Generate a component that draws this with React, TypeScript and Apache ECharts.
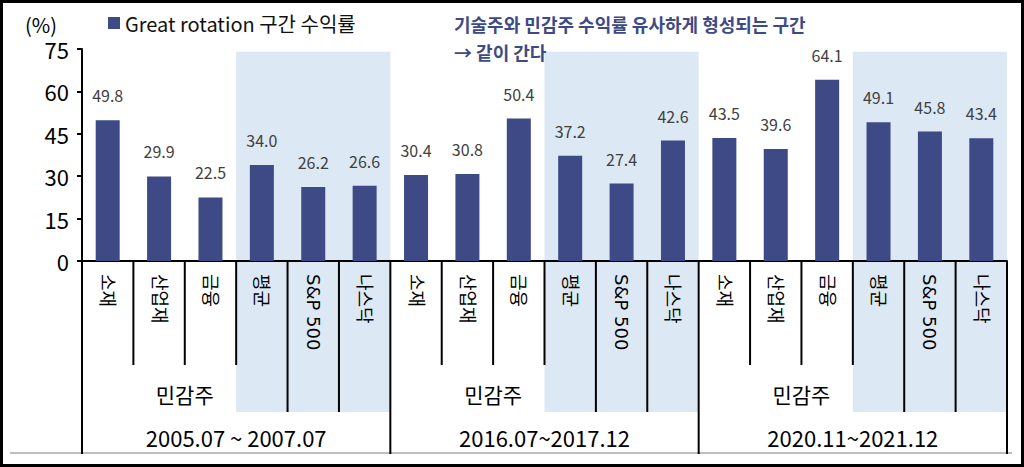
import { useEffect, useRef } from 'react';
import * as echarts from 'echarts';

const FONT = '"Noto Sans CJK KR", "Noto Sans", sans-serif';
const AXIS_FONT = '"DejaVu Sans", "Noto Sans CJK KR", sans-serif';

// 6 columns per period
const sectors = ['소재', '산업재', '금융', '평균', 'S&P 500', '나스닥'];
const periods = ['2005.07 ~ 2007.07', '2016.07~2017.12', '2020.11~2021.12'];
const groupLabel = '민감주';
const returns2005 = [49.8, 29.9, 22.5, 34.0, 26.2, 26.6];
const returns2016 = [30.4, 30.8, 50.4, 37.2, 27.4, 42.6];
const returns2020 = [43.5, 39.6, 64.1, 49.1, 45.8, 43.4];
const seriesName = 'Great rotation 구간 수익률';
const note1 = '기술주와 민감주 수익률 유사하게 형성되는 구간';
const note2 = '→ 같이 간다';

const categories = periods.flatMap((p, g) => sectors.map((s) => `${g}-${s}`));
const values = [...returns2005, ...returns2016, ...returns2020];

const BAR = '#3d4a85';
const SHADE = '#dde8f5';

export default function App() {
  const ref = useRef<HTMLDivElement>(null);

  useEffect(() => {
    if (!ref.current) return;
    document.body.style.margin = '0';
    const chart = echarts.init(ref.current, undefined, { renderer: 'svg' });

    chart.setOption({
      animation: false,
      backgroundColor: '#fff',
      textStyle: { fontFamily: FONT },
      legend: {
        data: [seriesName],
        left: 108,
        top: 13,
        icon: 'rect',
        itemWidth: 12,
        itemHeight: 12,
        itemGap: 4,
        padding: 0,
        textStyle: { fontSize: 20, color: '#111', fontFamily: FONT },
      },
      grid: { left: 82, right: 17, top: 49, bottom: 206 },
      xAxis: {
        type: 'category',
        data: categories,
        axisLine: { lineStyle: { color: '#000', width: 2 } },
        axisTick: { show: false },
        axisLabel: {
          rotate: -90,
          margin: 13,
          interval: 0,
          fontSize: 18,
          color: '#000',
          fontFamily: AXIS_FONT,
          formatter: (_v: string, i: number) => sectors[i % sectors.length],
        },
      },
      yAxis: {
        type: 'value',
        min: 0,
        max: 75,
        interval: 15,
        name: '(%)',
        nameLocation: 'end',
        nameGap: 15,
        nameTextStyle: { fontSize: 20, color: '#000', align: 'right', padding: [0, 25, 0, 0], fontFamily: FONT },
        axisLine: { show: true, lineStyle: { color: '#000', width: 2 } },
        axisTick: { show: true, length: 5, lineStyle: { color: '#000', width: 2 } },
        splitLine: { show: false },
        axisLabel: { fontSize: 22, color: '#000', margin: 13, fontFamily: FONT },
      },
      series: [
        {
          name: seriesName,
          type: 'bar',
          data: values,
          barWidth: 24,
          itemStyle: { color: BAR },
          label: {
            show: true,
            position: 'top',
            distance: 17,
            fontSize: 16,
            color: '#404040',
            fontFamily: FONT,
            formatter: (p: any) => Number(p.value).toFixed(1),
          },
        },
      ],
    });

    // decorations: shaded bands, divider lines, group labels
    const c0 = chart.convertToPixel({ xAxisIndex: 0 }, 0) as number;
    const c1 = chart.convertToPixel({ xAxisIndex: 0 }, 1) as number;
    const bw = c1 - c0;
    const edge = (k: number) => c0 - bw / 2 + k * bw;
    const y0 = chart.convertToPixel({ yAxisIndex: 0 }, 0) as number;
    const yTop = chart.convertToPixel({ yAxisIndex: 0 }, 74) as number;
    const lineStyle = { stroke: '#000', lineWidth: 2 };

    const els: any[] = [];
    periods.forEach((p, g) => {
      const base = g * sectors.length;
      els.push({
        type: 'rect',
        z: -5,
        shape: { x: edge(base + 3), y: yTop, width: bw * 3, height: y0 + 151 - yTop },
        style: { fill: SHADE },
      });
      for (let k = 1; k < sectors.length; k++) {
        const len = k <= 3 ? 104 : 151;
        const x = edge(base + k);
        els.push({ type: 'line', z: 5, shape: { x1: x, y1: y0, x2: x, y2: y0 + len }, style: lineStyle });
      }
      const xg = edge(base);
      els.push({ type: 'line', z: 5, shape: { x1: xg, y1: y0, x2: xg, y2: y0 + 193 }, style: lineStyle });
      els.push({
        type: 'text',
        z: 5,
        x: (edge(base) + edge(base + 4)) / 2,
        y: y0 + 133,
        style: { text: groupLabel, fontSize: 21, fill: '#000', align: 'center', verticalAlign: 'middle', fontFamily: FONT },
      });
      els.push({
        type: 'text',
        z: 5,
        x: (edge(base) + edge(base + 6)) / 2,
        y: y0 + 176,
        style: { text: p, fontSize: 22, fill: '#000', align: 'center', verticalAlign: 'middle', fontFamily: FONT },
      });
    });
    const xe = edge(categories.length);
    els.push({ type: 'line', z: 5, shape: { x1: xe, y1: y0, x2: xe, y2: y0 + 193 }, style: lineStyle });
    els.push({ type: 'line', z: 4, shape: { x1: 10, y1: y0 + 192, x2: 1012, y2: y0 + 192 }, style: { stroke: '#a8a8a8', lineWidth: 1.5 } });
    els.push({
      type: 'text',
      z: 5,
      x: 454,
      y: 24,
      style: { text: note1, fontSize: 18, fontWeight: 'bold', fill: BAR, verticalAlign: 'middle', fontFamily: FONT },
    });
    els.push({
      type: 'text',
      z: 5,
      x: 454,
      y: 52,
      style: { text: note2, fontSize: 18, fontWeight: 'bold', fill: BAR, verticalAlign: 'middle', fontFamily: FONT },
    });
    els.push({
      type: 'rect',
      z: 6,
      shape: { x: 1.5, y: 1.5, width: 1021, height: 464 },
      style: { fill: 'none', stroke: '#000', lineWidth: 3 },
    });

    chart.setOption({ graphic: { elements: els } });

    return () => chart.dispose();
  }, []);

  return <div ref={ref} style={{ width: 1024, height: 467 }} />;
}
